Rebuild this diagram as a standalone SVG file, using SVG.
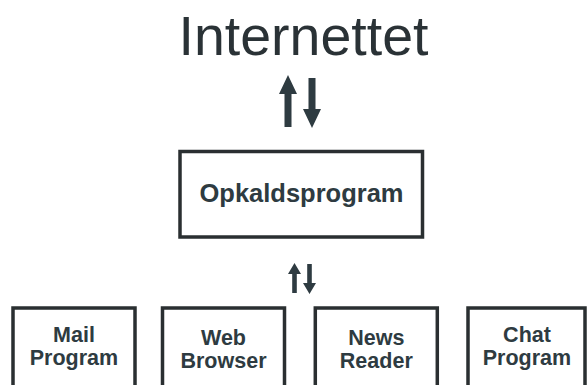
<svg xmlns="http://www.w3.org/2000/svg" width="587" height="385" viewBox="0 0 587 385">
<style>
.box{fill:#ffffff;stroke:#2a2f31;stroke-width:3.5}
.lbl{font-family:"Liberation Sans",Arial,sans-serif;font-weight:bold;fill:#2e3b41;text-anchor:middle}
.small{font-size:21.5px}
.arr{fill:#2e3b41}
</style>
<rect width="587" height="385" fill="#ffffff"/>
<g id="internettet">
<text x="303.5" y="55" font-family="Liberation Sans, Arial, sans-serif" font-size="55.5" fill="#2a3236" text-anchor="middle">Internettet</text>
</g>
<g id="opkaldsprogram">
<rect class="box" x="180" y="151.5" width="242.5" height="85.5"/>
<text class="lbl" x="301.5" y="202" font-size="25.5">Opkaldsprogram</text>
</g>
<g id="mail">
<rect class="box" x="13" y="308" width="122" height="100"/>
<text class="lbl small" x="74" y="341.5">Mail</text>
<text class="lbl small" x="74" y="365">Program</text>
</g>
<g id="web">
<rect class="box" x="162.5" y="308" width="122" height="100"/>
<text class="lbl small" x="223.5" y="345">Web</text>
<text class="lbl small" x="223.5" y="368">Browser</text>
</g>
<g id="news">
<rect class="box" x="315.3" y="308" width="122" height="100"/>
<text class="lbl small" x="376.3" y="345">News</text>
<text class="lbl small" x="376.3" y="368">Reader</text>
</g>
<g id="chat">
<rect class="box" x="468" y="308" width="117" height="100"/>
<text class="lbl small" x="527" y="341.5">Chat</text>
<text class="lbl small" x="527" y="365">Program</text>
</g>
<g id="connectors">
<polygon class="arr" points="288,75 297,94 291.5,94 291.5,127 284.5,127 284.5,94 279,94"/>
<polygon class="arr" points="312,128 321,109 315.5,109 315.5,78 308.5,78 308.5,109 303,109"/>
<polygon class="arr" points="294.5,263 301,274 296.8,274 296.8,293 292.2,293 292.2,274 288,274"/>
<polygon class="arr" points="309.5,294 316,283 311.8,283 311.8,264 307.2,264 307.2,283 303,283"/>
</g>
</svg>
